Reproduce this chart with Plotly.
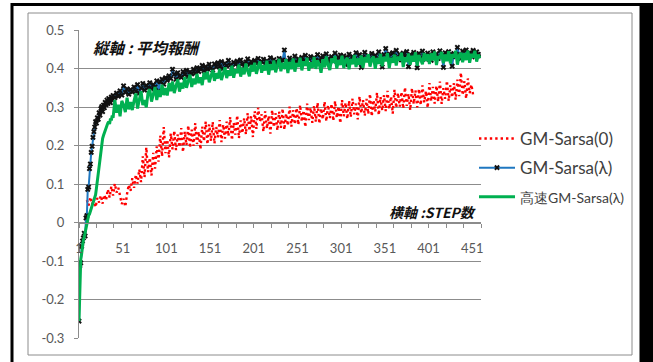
import plotly.graph_objects as go

# ---------------- data ----------------
steps_main = list(range(1, 41)) + list(range(42, 462, 2))

gm_sarsa_lambda = [
    -0.256, -0.112, -0.105, -0.062, -0.048, -0.040, -0.028, -0.035, 0.012, 0.018,
    0.086, 0.092, 0.140, 0.152, 0.182, 0.198, 0.221, 0.236, 0.248, 0.262,
    0.258, 0.272, 0.268, 0.285, 0.279, 0.296, 0.301, 0.288, 0.305, 0.298,
    0.312, 0.306, 0.318, 0.309, 0.322, 0.315, 0.311, 0.326, 0.319, 0.330,
    0.324, 0.336, 0.328, 0.342, 0.331, 0.355, 0.338, 0.347, 0.333, 0.345,
    0.339, 0.352, 0.341, 0.358, 0.336, 0.349, 0.361, 0.344, 0.356, 0.350,
    0.363, 0.347, 0.358, 0.352, 0.368, 0.341, 0.365, 0.372, 0.359, 0.376,
    0.369, 0.381, 0.374, 0.398, 0.385, 0.372, 0.389, 0.380, 0.377, 0.392,
    0.384, 0.395, 0.379, 0.391, 0.386, 0.398, 0.388, 0.402, 0.392, 0.399,
    0.408, 0.394, 0.405, 0.398, 0.411, 0.401, 0.396, 0.412, 0.404, 0.415,
    0.405, 0.418, 0.400, 0.413, 0.407, 0.421, 0.409, 0.402, 0.416, 0.411,
    0.419, 0.406, 0.422, 0.412, 0.404, 0.417, 0.425, 0.410, 0.418, 0.408,
    0.421, 0.413, 0.426, 0.409, 0.418, 0.424, 0.411, 0.420, 0.415, 0.428,
    0.412, 0.423, 0.417, 0.409, 0.426, 0.414, 0.422, 0.448, 0.405, 0.419,
    0.427, 0.414, 0.421, 0.432, 0.416, 0.425, 0.411, 0.429, 0.420, 0.434,
    0.418, 0.426, 0.431, 0.413, 0.428, 0.422, 0.436, 0.419, 0.427, 0.433,
    0.421, 0.438, 0.425, 0.416, 0.431, 0.424, 0.440, 0.418, 0.429, 0.435,
    0.422, 0.433, 0.410, 0.428, 0.437, 0.420, 0.431, 0.426, 0.441, 0.423,
    0.436, 0.403, 0.430, 0.442, 0.425, 0.433, 0.421, 0.439, 0.428, 0.434,
    0.424, 0.443, 0.431, 0.404, 0.436, 0.452, 0.429, 0.438, 0.425, 0.441,
    0.433, 0.447, 0.427, 0.437, 0.422, 0.440, 0.431, 0.444, 0.405, 0.436,
    0.429, 0.442, 0.434, 0.402, 0.439, 0.427, 0.445, 0.432, 0.424, 0.440,
    0.435, 0.421, 0.443, 0.430, 0.438, 0.426, 0.446, 0.433, 0.403, 0.441,
    0.428, 0.444, 0.436, 0.406, 0.439, 0.431, 0.455, 0.437, 0.426, 0.445,
    0.433, 0.448, 0.429, 0.441, 0.436, 0.447, 0.430, 0.443, 0.437, 0.432,
]

fast_gm_sarsa_lambda = [
    -0.256, -0.118, -0.095, -0.082, -0.060, -0.045, -0.038, -0.025, -0.012, -0.004,
    0.005, 0.018, 0.022, 0.030, 0.036, 0.042, 0.050, 0.058, 0.064, 0.072,
    0.090, 0.108, 0.128, 0.152, 0.170, 0.186, 0.205, 0.218, 0.226, 0.234,
    0.241, 0.246, 0.252, 0.258, 0.262, 0.256, 0.270, 0.265, 0.278, 0.272,
    0.318, 0.285, 0.306, 0.276, 0.316, 0.305, 0.287, 0.324, 0.294, 0.313,
    0.292, 0.316, 0.335, 0.296, 0.322, 0.341, 0.305, 0.318, 0.299, 0.337,
    0.346, 0.314, 0.333, 0.352, 0.318, 0.344, 0.326, 0.358, 0.331, 0.349,
    0.330, 0.362, 0.341, 0.366, 0.336, 0.353, 0.372, 0.340, 0.363, 0.348,
    0.378, 0.350, 0.369, 0.384, 0.352, 0.374, 0.359, 0.386, 0.362, 0.377,
    0.357, 0.389, 0.372, 0.392, 0.364, 0.381, 0.396, 0.368, 0.388, 0.374,
    0.399, 0.370, 0.391, 0.403, 0.375, 0.395, 0.381, 0.407, 0.376, 0.398,
    0.388, 0.410, 0.379, 0.402, 0.385, 0.413, 0.394, 0.380, 0.409, 0.392,
    0.415, 0.386, 0.404, 0.418, 0.389, 0.409, 0.395, 0.420, 0.384, 0.411,
    0.396, 0.421, 0.390, 0.412, 0.425, 0.393, 0.415, 0.399, 0.424, 0.388,
    0.417, 0.398, 0.426, 0.392, 0.414, 0.404, 0.428, 0.395, 0.419, 0.407,
    0.428, 0.394, 0.416, 0.402, 0.430, 0.399, 0.421, 0.410, 0.389, 0.424,
    0.403, 0.431, 0.408, 0.396, 0.426, 0.415, 0.432, 0.400, 0.422, 0.409,
    0.433, 0.401, 0.420, 0.428, 0.398, 0.425, 0.411, 0.435, 0.404, 0.426,
    0.410, 0.434, 0.402, 0.429, 0.416, 0.437, 0.405, 0.423, 0.431, 0.399,
    0.427, 0.412, 0.438, 0.406, 0.430, 0.419, 0.440, 0.401, 0.428, 0.415,
    0.436, 0.408, 0.431, 0.421, 0.441, 0.404, 0.429, 0.417, 0.439, 0.410,
    0.433, 0.418, 0.442, 0.407, 0.435, 0.423, 0.411, 0.440, 0.420, 0.437,
    0.412, 0.439, 0.421, 0.444, 0.409, 0.432, 0.426, 0.443, 0.414, 0.436,
    0.419, 0.445, 0.413, 0.437, 0.428, 0.446, 0.410, 0.434, 0.441, 0.416,
    0.440, 0.422, 0.447, 0.415, 0.438, 0.429, 0.446, 0.418, 0.436, 0.427,
]

steps_red = list(range(10, 453, 2))
gm_sarsa_0 = [
    0.058, 0.044, 0.066, 0.047, 0.061, 0.040, 0.064, 0.052, 0.070, 0.049,
    0.072, 0.058, 0.086, 0.065, 0.094, 0.070, 0.101, 0.078, 0.090, 0.066,
    0.048, 0.062, 0.041, 0.075, 0.098, 0.082, 0.115, 0.090, 0.124, 0.101,
    0.138, 0.105, 0.172, 0.118, 0.195, 0.131, 0.168, 0.122, 0.181, 0.140,
    0.198, 0.158, 0.226, 0.172, 0.248, 0.180, 0.215, 0.169, 0.231, 0.190,
    0.238, 0.188, 0.229, 0.196, 0.245, 0.183, 0.236, 0.201, 0.252, 0.194,
    0.241, 0.199, 0.258, 0.204, 0.236, 0.190, 0.249, 0.211, 0.262, 0.203,
    0.255, 0.212, 0.261, 0.205, 0.248, 0.221, 0.266, 0.209, 0.254, 0.218,
    0.262, 0.225, 0.274, 0.214, 0.259, 0.228, 0.278, 0.219, 0.265, 0.232,
    0.271, 0.229, 0.284, 0.238, 0.276, 0.222, 0.289, 0.243, 0.298, 0.262,
    0.281, 0.236, 0.289, 0.244, 0.277, 0.231, 0.292, 0.248, 0.284, 0.239,
    0.288, 0.246, 0.296, 0.241, 0.283, 0.252, 0.301, 0.249, 0.292, 0.255,
    0.297, 0.254, 0.305, 0.262, 0.291, 0.248, 0.309, 0.266, 0.298, 0.259,
    0.303, 0.262, 0.311, 0.257, 0.296, 0.268, 0.314, 0.263, 0.305, 0.271,
    0.308, 0.264, 0.315, 0.272, 0.301, 0.258, 0.318, 0.276, 0.311, 0.269,
    0.316, 0.274, 0.322, 0.281, 0.309, 0.268, 0.327, 0.284, 0.318, 0.277,
    0.321, 0.282, 0.334, 0.276, 0.318, 0.288, 0.337, 0.279, 0.326, 0.291,
    0.331, 0.289, 0.342, 0.295, 0.327, 0.283, 0.345, 0.298, 0.336, 0.301,
    0.339, 0.296, 0.351, 0.303, 0.334, 0.292, 0.349, 0.308, 0.343, 0.299,
    0.347, 0.305, 0.356, 0.312, 0.341, 0.298, 0.362, 0.315, 0.352, 0.309,
    0.355, 0.314, 0.366, 0.308, 0.349, 0.321, 0.368, 0.316, 0.357, 0.325,
    0.362, 0.319, 0.371, 0.328, 0.389, 0.331, 0.367, 0.322, 0.374, 0.336,
    0.358, 0.331,
]

y_ticks = [-0.3, -0.2, -0.1, 0, 0.1, 0.2, 0.3, 0.4, 0.5]
y_tick_labels = ["-0.3", "-0.2", "-0.1", "0", "0.1", "0.2", "0.3", "0.4", "0.5"]
x_ticks = [1, 51, 101, 151, 201, 251, 301, 351, 401, 451]
x_tick_labels = [str(v) for v in x_ticks]

series_names = ["GM-Sarsa(0)", "GM-Sarsa(λ)",
                "<span style='font-size:14px'>高速GM-Sarsa(λ)</span>"]

# ---------------- layout helpers (pixels -> paper) ----------------
W, H = 653, 362
def px(x):
    return x / W
def py(y):
    return 1 - y / H

GRID = "#8c8c8c"
TXT = "#595959"
FONT = "Lato, Liberation Sans, sans-serif"
JP = "Noto Sans CJK JP"

fig = go.Figure()
fig.add_trace(go.Scatter(
    x=steps_red, y=gm_sarsa_0, mode="lines", name=series_names[0],
    line=dict(color="#FF0000", width=2.4, dash="2.4px,3px"), legendgroup="a"))
fig.add_trace(go.Scatter(
    x=steps_main, y=gm_sarsa_lambda, mode="lines+markers", name=series_names[1],
    line=dict(color="#1F77C0", width=2),
    marker=dict(symbol="x", size=5, color="#111111"), legendgroup="b"))
fig.add_trace(go.Scatter(
    x=steps_main, y=fast_gm_sarsa_lambda, mode="lines", name=series_names[2],
    line=dict(color="#00B050", width=3), legendgroup="c"))

fig.update_layout(
    width=W, height=H,
    margin=dict(l=0, r=0, t=0, b=0, autoexpand=False),
    paper_bgcolor="white", plot_bgcolor="white",
    font=dict(family=FONT, color=TXT, size=13),
    xaxis=dict(
        domain=[px(79), px(481)], range=[1, 461],
        anchor="free", position=py(223),
        tickmode="array", tickvals=x_ticks, ticktext=x_tick_labels,
        ticks="", showgrid=False, zeroline=False,
        showline=True, linecolor=GRID, linewidth=1,
        ticklabelstandoff=13,
        tickfont=dict(family=FONT, size=13, color=TXT),
        minor=dict(tickmode="linear", tick0=1, dtick=20, ticks="outside",
                   ticklen=4, tickcolor=GRID, showgrid=False),
    ),
    yaxis=dict(
        domain=[py(338), py(30)], range=[-0.3, 0.5],
        tickmode="array", tickvals=y_ticks, ticktext=y_tick_labels,
        showgrid=True, gridcolor=GRID, gridwidth=1, zeroline=False,
        showline=True, linecolor=GRID, linewidth=1,
        ticks="outside", ticklen=4, tickcolor=GRID,
        ticklabelstandoff=7,
        tickfont=dict(family=FONT, size=13, color=TXT),
    ),
    legend=dict(
        x=px(474), y=py(121), xanchor="left", yanchor="top",
        font=dict(family=FONT, size=17, color="#404040"),
        itemwidth=36, tracegroupgap=4, bgcolor="rgba(0,0,0,0)",
    ),
    shapes=[
        dict(type="rect", xref="paper", yref="paper",
             x0=px(28), x1=px(632), y0=py(355), y1=py(13),
             line=dict(color=GRID, width=1), layer="below"),
        dict(type="rect", xref="paper", yref="paper",
             x0=px(12), x1=px(641), y0=py(372), y1=py(4.5),
             line=dict(color="black", width=3)),
        dict(type="rect", xref="paper", yref="paper",
             x0=px(641), x1=px(660), y0=py(380), y1=py(3),
             fillcolor="black", line=dict(width=0)),
    ],
    annotations=[
        dict(text="<b><i>縦軸 : 平均報酬</i></b>", xref="paper", yref="paper",
             x=px(91), y=py(47), xanchor="left", yanchor="middle",
             showarrow=False, font=dict(family=JP, size=15.5, color="#111111")),
        dict(text="<b><i>横軸 :STEP数</i></b>", xref="paper", yref="paper",
             x=px(478), y=py(212), xanchor="right", yanchor="middle",
             showarrow=False, font=dict(family=JP, size=14, color="#111111")),
    ],
)

fig.write_html("out.html", config={"displayModeBar": False},
               post_script="document.body.style.margin='0px';")
